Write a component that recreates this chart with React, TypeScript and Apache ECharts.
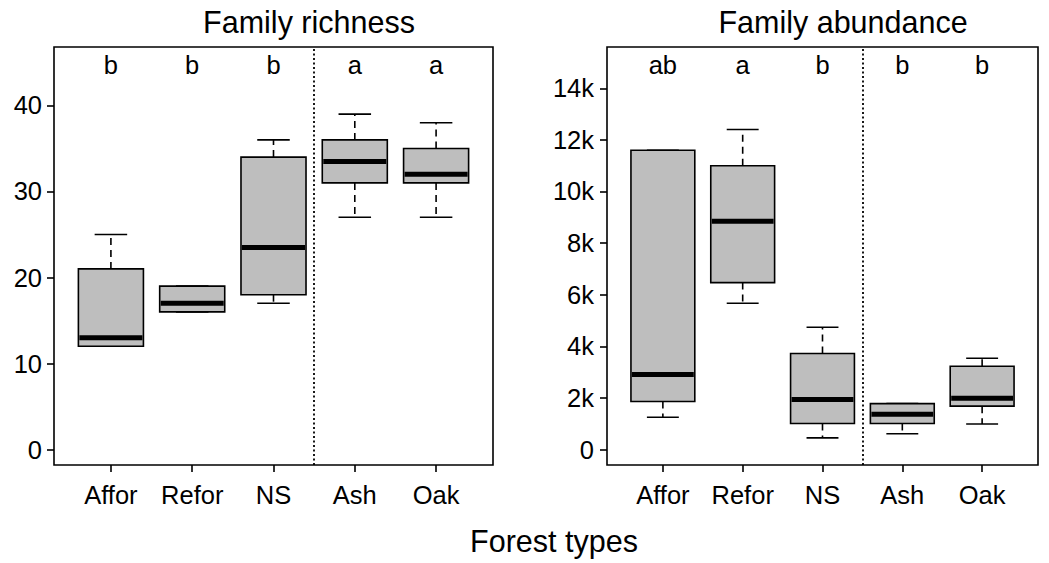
import React, { useEffect, useRef } from "react";
import * as echarts from "echarts";

const categories = ["Affor", "Refor", "NS", "Ash", "Oak"];
const categoryPositions = [1, 2, 3, 4, 5];

const richnessMin = [12, 16, 17, 27, 27];
const richnessQ1 = [12, 16, 18, 31, 31];
const richnessMedian = [13, 17, 23.5, 33.5, 32];
const richnessQ3 = [21, 19, 34, 36, 35];
const richnessMax = [25, 19, 36, 39, 38];
const richnessLetters = ["b", "b", "b", "a", "a"];
const richnessTicks = [0, 10, 20, 30, 40];

const abundanceMin = [1250, 5670, 450, 610, 990];
const abundanceQ1 = [1860, 6470, 1010, 1010, 1680];
const abundanceMedian = [2910, 8850, 1940, 1370, 1990];
const abundanceQ3 = [11600, 11000, 3720, 1780, 3230];
const abundanceMax = [11600, 12400, 4740, 1780, 3540];
const abundanceLetters = ["ab", "a", "b", "b", "b"];
const abundanceTicks = [0, 2000, 4000, 6000, 8000, 10000, 12000, 14000];

const FONT = "'Liberation Sans', Arial, sans-serif";

function buildRows(mn: number[], q1: number[], md: number[], q3: number[], mx: number[]) {
  return categoryPositions.map((x, i) => [x, mn[i], q1[i], md[i], q3[i], mx[i]]);
}

function makeRenderItem(letters: string[], letterY: number) {
  return (params: any, api: any) => {
    const x = api.value(0);
    const mn = api.value(1);
    const q1 = api.value(2);
    const md = api.value(3);
    const q3 = api.value(4);
    const mx = api.value(5);
    const half = api.size([0.8, 0])[0] / 2;
    const cx = api.coord([x, 0])[0];
    const yMin = api.coord([x, mn])[1];
    const yQ1 = api.coord([x, q1])[1];
    const yMd = api.coord([x, md])[1];
    const yQ3 = api.coord([x, q3])[1];
    const yMx = api.coord([x, mx])[1];
    const ly = api.coord([x, letterY])[1];
    const solid = { stroke: "#000", lineWidth: 1.6, fill: null };
    const dashed = { stroke: "#000", lineWidth: 1.6, lineDash: [7, 5], fill: null };
    return {
      type: "group",
      children: [
        { type: "line", shape: { x1: cx, y1: yQ3, x2: cx, y2: yMx }, style: dashed },
        { type: "line", shape: { x1: cx, y1: yQ1, x2: cx, y2: yMin }, style: dashed },
        { type: "line", shape: { x1: cx - half / 2, y1: yMx, x2: cx + half / 2, y2: yMx }, style: solid },
        { type: "line", shape: { x1: cx - half / 2, y1: yMin, x2: cx + half / 2, y2: yMin }, style: solid },
        {
          type: "rect",
          shape: { x: cx - half, y: yQ3, width: half * 2, height: yQ1 - yQ3 },
          style: { fill: "#bebebe", stroke: "#000", lineWidth: 1.6 },
        },
        { type: "line", shape: { x1: cx - half + 1, y1: yMd, x2: cx + half - 1, y2: yMd }, style: { stroke: "#000", lineWidth: 5 } },
        {
          type: "text",
          x: cx,
          y: ly,
          style: {
            text: letters[params.dataIndex],
            fill: "#000",
            font: `25.5px ${FONT}`,
            align: "center",
            verticalAlign: "middle",
            textAlign: "center",
            textVerticalAlign: "middle",
          },
        },
      ],
    };
  };
}

export default function App() {
  const ref = useRef<HTMLDivElement>(null);
  useEffect(() => {
    if (!ref.current) return;
    const chart = echarts.init(ref.current, null, { renderer: "svg" });
    const axisLabelBase = { color: "#000", fontSize: 25.5, fontFamily: FONT };
    const xAxisCommon = (gridIndex: number) => ({
      type: "value",
      gridIndex,
      min: 0.3,
      max: 5.7,
      axisLine: { show: false, onZero: false },
      splitLine: { show: false },
      axisTick: { show: true, length: 7, customValues: categoryPositions, lineStyle: { color: "#000", width: 1.6 } },
      axisLabel: {
        ...axisLabelBase,
        margin: 17,
        lineHeight: 25,
        customValues: categoryPositions,
        formatter: (v: number) => categories[Math.round(v) - 1] ?? "",
      },
    });
    const option: any = {
      animation: false,
      backgroundColor: "#fff",
      grid: [
        { left: 54, top: 47, width: 439, height: 418, show: true, borderColor: "#000", borderWidth: 1.6, backgroundColor: "transparent" },
        { left: 607, top: 47, width: 431, height: 418, show: true, borderColor: "#000", borderWidth: 1.6, backgroundColor: "transparent" },
      ],
      xAxis: [xAxisCommon(0), xAxisCommon(1)],
      yAxis: [
        {
          type: "value",
          gridIndex: 0,
          min: -1.8,
          max: 46.8,
          axisLine: { show: false, onZero: false },
          splitLine: { show: false },
          axisTick: { show: true, length: 7, customValues: richnessTicks, lineStyle: { color: "#000", width: 1.6 } },
          axisLabel: { ...axisLabelBase, margin: 12, customValues: richnessTicks },
        },
        {
          type: "value",
          gridIndex: 1,
          min: -600,
          max: 15600,
          axisLine: { show: false, onZero: false },
          splitLine: { show: false },
          axisTick: { show: true, length: 7, customValues: abundanceTicks, lineStyle: { color: "#000", width: 1.6 } },
          axisLabel: {
            ...axisLabelBase,
            margin: 13,
            customValues: abundanceTicks,
            formatter: (v: number) => (v === 0 ? "0" : `${v / 1000}k`),
          },
        },
      ],
      series: [
        {
          type: "custom",
          xAxisIndex: 0,
          yAxisIndex: 0,
          renderItem: makeRenderItem(richnessLetters, 44.7),
          encode: { x: 0, y: [1, 2, 3, 4, 5] },
          data: buildRows(richnessMin, richnessQ1, richnessMedian, richnessQ3, richnessMax),
          markLine: {
            silent: true,
            symbol: "none",
            label: { show: false },
            lineStyle: { type: [2, 2.5], color: "#000", width: 1.8 },
            data: [{ xAxis: 3.5 }],
          },
        },
        {
          type: "custom",
          xAxisIndex: 1,
          yAxisIndex: 1,
          renderItem: makeRenderItem(abundanceLetters, 14900),
          encode: { x: 0, y: [1, 2, 3, 4, 5] },
          data: buildRows(abundanceMin, abundanceQ1, abundanceMedian, abundanceQ3, abundanceMax),
          markLine: {
            silent: true,
            symbol: "none",
            label: { show: false },
            lineStyle: { type: [2, 2.5], color: "#000", width: 1.8 },
            data: [{ xAxis: 3.5 }],
          },
        },
      ],
      graphic: [
        {
          type: "text",
          x: 309,
          y: 22,
          style: { text: "Family richness", fill: "#000", font: `30.5px ${FONT}`, align: "center", verticalAlign: "middle", textAlign: "center", textVerticalAlign: "middle" },
        },
        {
          type: "text",
          x: 843,
          y: 22,
          style: { text: "Family abundance", fill: "#000", font: `30.5px ${FONT}`, align: "center", verticalAlign: "middle", textAlign: "center", textVerticalAlign: "middle" },
        },
        {
          type: "text",
          x: 554,
          y: 541,
          style: { text: "Forest types", fill: "#000", font: `30.5px ${FONT}`, align: "center", verticalAlign: "middle", textAlign: "center", textVerticalAlign: "middle" },
        },
      ],
    };
    chart.setOption(option);
    return () => chart.dispose();
  }, []);
  return <div ref={ref} style={{ position: "fixed", left: 0, top: 0, width: 1049, height: 563 }} />;
}
